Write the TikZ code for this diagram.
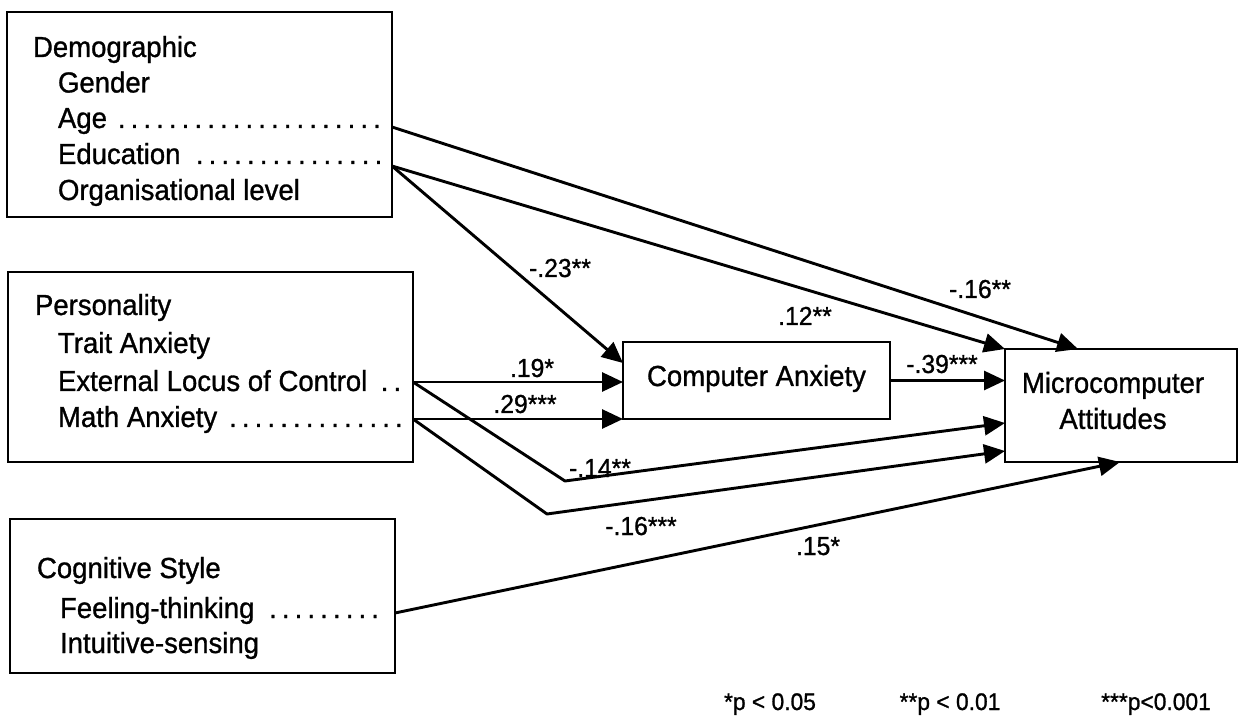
\documentclass[tikz,border=0pt]{standalone}
\usepackage{fontspec}
\setmainfont{Liberation Sans}[FakeStretch=0.95,FakeBold=1]
\usetikzlibrary{arrows.meta,calc}
\newcommand\itemfnt{\fontsize{29}{36}\selectfont}
\newcommand\labfnt{\fontsize{26}{30}\selectfont}
\newcommand\legfnt{\fontsize{24}{28}\selectfont}
\tikzset{
  boxst/.style={draw, line width=2.4pt, inner sep=0pt, outer sep=0pt, anchor=north west},
  txt/.style={inner sep=0pt, outer sep=0pt, anchor=base west, font=\itemfnt},
  arr/.style={line width=2.9pt, line join=round, -{Triangle[length=21pt,width=19pt]}},
  lab/.style={inner sep=0pt, anchor=base, font=\labfnt},
  leg/.style={inner sep=0pt, anchor=base, font=\legfnt}
}
\begin{document}
\begin{tikzpicture}[x=1pt,y=-1pt]
\useasboundingbox (0,0) rectangle (1243,727);
% boxes
\node[boxst, minimum width=385pt, minimum height=205pt] (demo) at (7,12) {};
\node[boxst, minimum width=405pt, minimum height=190pt] (pers) at (8,272) {};
\node[boxst, minimum width=385pt, minimum height=154pt] (cog) at (10,519) {};
\node[boxst, minimum width=267pt, minimum height=77pt, font=\itemfnt] (ca) at (623,342) {};
\node[font=\itemfnt, inner sep=0pt] (catext) at ($(ca.center)+(0,-2)$) {Computer Anxiety};
\node[boxst, minimum width=232pt, minimum height=113pt] (ma) at (1005,349) {};
\node[font=\itemfnt, align=center, inner sep=0pt] (matext) at ($(ma.center)+(-8,-5)$) {Microcomputer\\Attitudes};
% demographic texts
\node[txt] (demt) at (33,57) {Demographic};
\node[txt] (gender) at (58,92.5) {Gender};
\node[txt] (age) at (58,128) {\makebox[326pt][l]{Age \dotfill}};
\node[txt] (edu) at (58,164) {\makebox[332pt][l]{Education \dotfill}};
\node[txt] (org) at (58,200) {Organisational level};
% personality texts
\node[txt] (pert) at (35,315) {Personality};
\node[txt] (trait) at (58,353) {Trait Anxiety};
\node[txt] (ext) at (58,391) {\makebox[349pt][l]{External Locus of Control \dotfill}};
\node[txt] (math) at (58,427) {\makebox[349pt][l]{Math Anxiety \dotfill}};
% cognitive texts
\node[txt] (cogt) at (37,578) {Cognitive Style};
\node[txt] (feel) at (60,618) {\makebox[326pt][l]{Feeling-thinking \dotfill}};
\node[txt] (intu) at (60,653) {Intuitive-sensing};
% start points
\coordinate (ageO) at (demo.east |- 0,127);
\coordinate (eduO) at (demo.east |- 0,166);
\coordinate (extO) at (pers.east |- 0,382);
\coordinate (mathO) at (pers.east |- 0,419);
\coordinate (feelO) at (cog.east |- 0,613);
\coordinate (b1) at (565,481);
\coordinate (b2) at (547,514);
% connectors
\draw[arr] (ageO) -- ($(ma.north west)+(73,0)$);
\draw[arr] (eduO) -- (ma.north west);
\draw[arr] (eduO) -- ($(ca.north west)+(0,21)$);
\draw[arr] (extO) -- (ca.west |- extO);
\draw[arr] (mathO) -- (ca.west |- mathO);
\draw[arr] (ca.east) -- (ma.west |- ca.east);
\draw[arr] (extO) -- (b1) -- ($(ma.north west)+(0,74)$);
\draw[arr] (mathO) -- (b2) -- ($(ma.north west)+(0,102)$);
\draw[arr] (feelO) -- ($(ma.south west)+(115,0)$);
% labels
\node[lab] (l1) at (560,277) {-.23**};
\node[lab] (l2) at (805,325) {.12**};
\node[lab] (l3) at (980,298) {-.16**};
\node[lab] (l4) at (532,377) {.19*};
\node[lab] (l5) at (525,413) {.29***};
\node[lab] (l6) at (942,373) {-.39***};
\node[lab] (l7) at (600,477) {-.14**};
\node[lab] (l8) at (641,535) {-.16***};
\node[lab] (l9) at (818,555) {.15*};
% legend
\node[leg] (p1) at (770,710) {*p < 0.05};
\node[leg] (p2) at (950,710) {**p < 0.01};
\node[leg] (p3) at (1156,710) {***p<0.001};
\end{tikzpicture}
\end{document}
